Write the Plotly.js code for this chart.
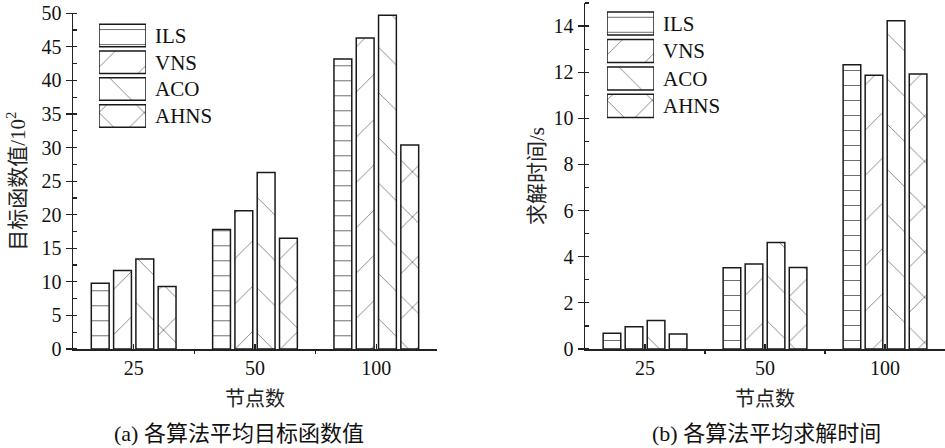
<!DOCTYPE html>
<html>
<head>
<meta charset="utf-8">
<script src="https://cdn.plot.ly/plotly-3.0.1.min.js"></script>
<style>
html,body{margin:0;padding:0;background:#fff;}
#chart{width:945px;height:448px;}
</style>
</head>
<body>
<div id="chart"></div>
<script>
// ---- data ----
const categories = ['25', '50', '100'];
const seriesNames = ['ILS', 'VNS', 'ACO', 'AHNS'];

// (a) average objective value /10^2
const objILS  = [9.8, 17.8, 43.2];
const objVNS  = [11.7, 20.6, 46.3];
const objACO  = [13.4, 26.3, 49.7];
const objAHNS = [9.3, 16.5, 30.4];

// (b) average solving time /s
const timeILS  = [0.68, 3.52, 12.32];
const timeVNS  = [0.97, 3.68, 11.87];
const timeACO  = [1.24, 4.62, 14.23];
const timeAHNS = [0.65, 3.53, 11.92];

const yTicksA = [0, 5, 10, 15, 20, 25, 30, 35, 40, 45, 50];
const yTicksB = [0, 2, 4, 6, 8, 10, 12, 14];

const legendKey = [1, 1, 1, 1];

// ---- styles ----
const shapes = ['-', '/', '\\', 'x'];
const psize = [15, 32, 32, 32];
const psolid = [0.07, 0.025, 0.025, 0.05];
const serif = '"Liberation Serif", "Noto Sans CJK SC", serif';
const cjk = '"Noto Sans CJK SC", sans-serif';
const outline = {color: '#1a1a1a', width: 1.5};
const patColor = '#6f6f6f';

const xIdx = categories.map((c, i) => i);

function barTrace(name, vals, k, xa, ya) {
  return {
    type: 'bar', name: name, x: xIdx, y: vals, xaxis: xa, yaxis: ya,
    showlegend: false, hoverinfo: 'skip',
    marker: {
      color: 'white', line: outline,
      pattern: {shape: shapes[k], size: psize[k], solidity: psolid[k],
                fgcolor: patColor, bgcolor: 'white', fillmode: 'replace'}
    }
  };
}

const dataA = [objILS, objVNS, objACO, objAHNS];
const dataB = [timeILS, timeVNS, timeACO, timeAHNS];
const traces = [];
dataA.forEach((v, k) => traces.push(barTrace(seriesNames[k], v, k, 'x', 'y')));
dataB.forEach((v, k) => traces.push(barTrace(seriesNames[k], v, k, 'x2', 'y2')));

function legendTrace(xa, ya) {
  return {
    type: 'bar', orientation: 'h', x: legendKey, y: seriesNames,
    xaxis: xa, yaxis: ya, width: 0.84, showlegend: false, hoverinfo: 'skip',
    cliponaxis: false,
    marker: {
      color: 'white', line: outline,
      pattern: {shape: shapes, size: psize, solidity: psolid,
                fgcolor: patColor, bgcolor: 'white', fillmode: 'replace'}
    }
  };
}
traces.push(legendTrace('x3', 'y3'));
traces.push(legendTrace('x4', 'y4'));

const tickFont = () => ({family: serif, size: 20, color: '#111'});

function xAxis(domain, anchor) {
  return {
    domain: domain, anchor: anchor, range: [-0.5, 2.5],
    tickmode: 'array', tickvals: xIdx, ticktext: categories,
    ticks: 'inside', ticklen: 5, tickwidth: 1.2, tickcolor: '#222',
    showline: true, linewidth: 1.5, linecolor: '#222',
    showgrid: false, zeroline: false, tickfont: tickFont(),
    minor: {tickmode: 'linear', tick0: 0.5, dtick: 1, ticks: 'outside', ticklen: 3, tickwidth: 1.2, tickcolor: '#222', showgrid: false},
    title: {text: '节点数', font: {family: cjk, size: 20, color: '#222'}, standoff: 14},
    automargin: false, fixedrange: true
  };
}
function yAxis(domain, anchor, range, tv, minorStep, title, standoff) {
  return {
    domain: domain, anchor: anchor, range: range,
    tickmode: 'array', tickvals: tv,
    ticks: 'outside', ticklen: 6, tickwidth: 1.2, tickcolor: '#222',
    showline: true, linewidth: 1.5, linecolor: '#222',
    showgrid: false, zeroline: false, tickfont: tickFont(),
    minor: {tickmode: 'linear', tick0: 0, dtick: minorStep, ticks: 'inside', ticklen: 4, tickwidth: 1.2, tickcolor: '#222', showgrid: false},
    title: {text: title, font: {family: serif, size: 21, color: '#222'}, standoff: standoff},
    automargin: false, fixedrange: true
  };
}
function legX(domain, anchor) {
  return {domain: domain, anchor: anchor, range: [0, 1], visible: false, fixedrange: true};
}
function legY(domain, anchor) {
  return {domain: domain, anchor: anchor, type: 'category', autorange: 'reversed',
          side: 'right', showline: false, ticks: '', showgrid: false, zeroline: false,
          ticklabelstandoff: 8, tickfont: {family: serif, size: 21, color: '#111'},
          automargin: false, fixedrange: true};
}

const layout = {
  width: 945, height: 448,
  margin: {l: 73, r: 0, t: 3, b: 98.5, pad: 0},
  paper_bgcolor: 'white', plot_bgcolor: 'white',
  barmode: 'group', bargap: 0.265, bargroupgap: 0.2,
  font: {family: serif, color: '#111'},
  showlegend: false,
  xaxis: xAxis([0, 0.4174], 'y'),
  yaxis: yAxis([0, 0.9703], 'x', [0, 50], yTicksA, 2.5, '目标函数值/10<sup>2</sup>', 10),
  xaxis2: xAxis([0.5872, 1], 'y2'),
  yaxis2: yAxis([0, 1], 'x2', [0, 15], yTicksB, 1, '求解时间/s', 3),
  xaxis3: legX([0.0298, 0.0837], 'y3'),
  yaxis3: legY([0.6349, 0.9449], 'x3'),
  xaxis4: legX([0.6124, 0.6663], 'y4'),
  yaxis4: legY([0.6629, 0.9804], 'x4'),
  annotations: [
    {text: '(a) 各算法平均目标函数值', xref: 'paper', yref: 'paper', x: 0.190, y: -0.245,
     showarrow: false, xanchor: 'center', yanchor: 'middle', font: {family: serif, size: 22, color: '#111'}},
    {text: '(b) 各算法平均求解时间', xref: 'paper', yref: 'paper', x: 0.795, y: -0.245,
     showarrow: false, xanchor: 'center', yanchor: 'middle', font: {family: serif, size: 22, color: '#111'}}
  ]
};

Plotly.newPlot('chart', traces, layout, {staticPlot: true, displayModeBar: false});
</script>
</body>
</html>
